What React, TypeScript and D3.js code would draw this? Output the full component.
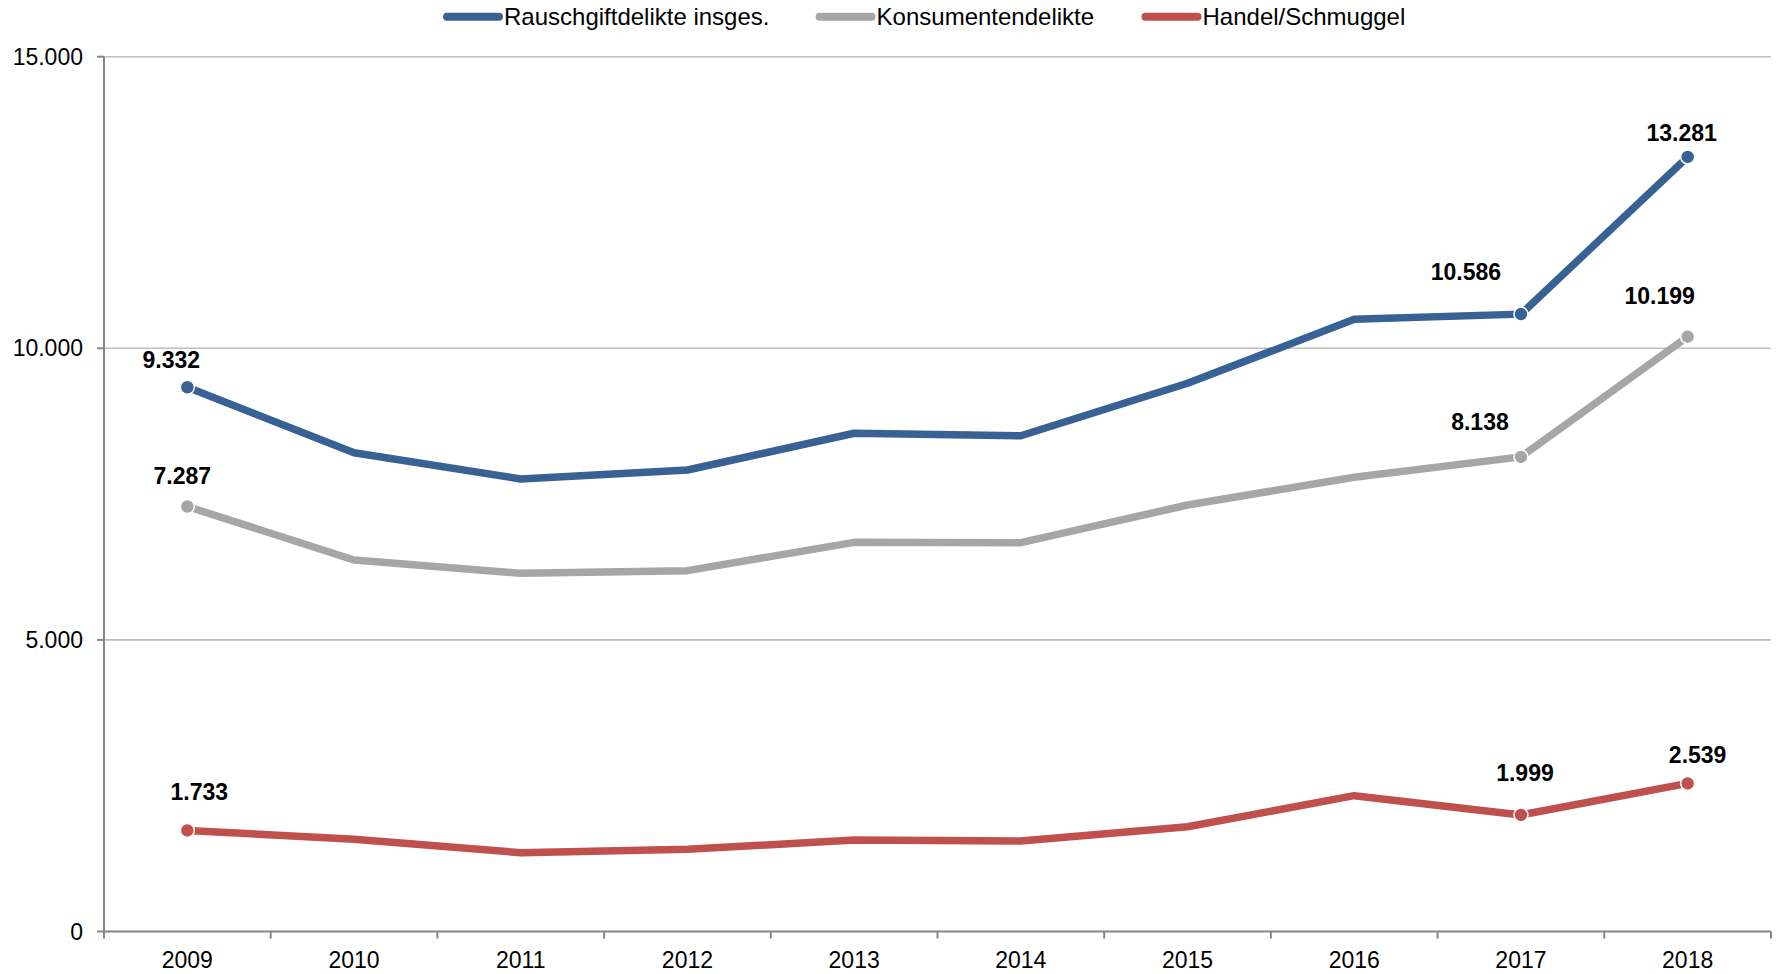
import React from "react";
import * as d3 from "d3";

const years = ["2009", "2010", "2011", "2012", "2013", "2014", "2015", "2016", "2017", "2018"];
const rauschgift = [9332, 8210, 7759, 7913, 8543, 8501, 9400, 10497, 10586, 13281];
const konsumenten = [7287, 6370, 6142, 6187, 6673, 6667, 7313, 7790, 8138, 10199];
const handel = [1733, 1581, 1351, 1409, 1569, 1552, 1797, 2329, 1999, 2539];
const yTicks = [0, 5000, 10000, 15000];
const seriesNames = ["Rauschgiftdelikte insges.", "Konsumentendelikte", "Handel/Schmuggel"];
const markedIdx = [0, 8, 9];

// layout / style (not data)
const W = 1781;
const H = 974;
const M = { left: 104, right: 1771, top: 56.7, bottom: 931.5 };
const colors = ["#386293", "#A6A6A6", "#C0504D"];
const legendX = [443, 815.6, 1141.5];
// label offsets relative to point [dx, dy] for indices 0, 8, 9
const labelOffsets: number[][][] = [
  [[-16, -19], [-55, -34], [-6, -16]],
  [[-5, -23], [-41, -27], [-28, -33]],
  [[12, -30], [4, -34], [10, -20]],
];

const fmt = (v: number) => d3.format(",")(v).replace(/,/g, ".");

export default function App() {
  const x = d3.scaleBand<string>().domain(years).range([M.left, M.right]);
  const y = d3.scaleLinear().domain([0, 15000]).range([M.bottom, M.top]);
  const cx = (i: number) => (x(years[i]) as number) + x.bandwidth() / 2;
  const line = d3
    .line<number>()
    .x((_, i) => cx(i))
    .y((d) => y(d));
  const allSeries = [rauschgift, konsumenten, handel];
  const font = "'Liberation Sans', Arial, Helvetica, sans-serif";
  const boundaries = d3.range(years.length + 1).map((i) => M.left + i * x.bandwidth());

  return (
    <svg
      width={W}
      height={H}
      style={{ position: "absolute", left: 0, top: 0, display: "block", background: "#fff" }}
      fontFamily={font}
    >
      {/* gridlines */}
      {yTicks.filter((t) => t > 0).map((t) => (
        <line key={"g" + t} x1={M.left} x2={M.right} y1={y(t)} y2={y(t)} stroke="#BEBEBE" strokeWidth={1.6} />
      ))}
      {/* y axis */}
      <line x1={M.left} x2={M.left} y1={M.top} y2={M.bottom} stroke="#868686" strokeWidth={2} />
      {yTicks.map((t) => (
        <g key={"yt" + t}>
          <line x1={M.left - 7} x2={M.left} y1={y(t)} y2={y(t)} stroke="#868686" strokeWidth={2} />
          <text x={83} y={y(t) + 8} textAnchor="end" fontSize={23} fill="#000">
            {fmt(t)}
          </text>
        </g>
      ))}
      {/* x axis */}
      <line x1={M.left} x2={M.right} y1={M.bottom} y2={M.bottom} stroke="#868686" strokeWidth={2} />
      {boundaries.map((bx, i) => (
        <line key={"xt" + i} x1={bx} x2={bx} y1={M.bottom} y2={M.bottom + 7} stroke="#868686" strokeWidth={2} />
      ))}
      {years.map((yr, i) => (
        <text key={yr} x={cx(i)} y={968} textAnchor="middle" fontSize={23} fill="#000">
          {yr}
        </text>
      ))}
      {/* lines */}
      {allSeries.map((s, si) => (
        <path
          key={"l" + si}
          d={line(s) as string}
          fill="none"
          stroke={colors[si]}
          strokeWidth={7.5}
          strokeLinejoin="round"
        />
      ))}
      {/* markers */}
      {allSeries.map((s, si) =>
        markedIdx.map((i) => (
          <circle key={"m" + si + "-" + i} cx={cx(i)} cy={y(s[i])} r={7} fill={colors[si]} stroke="#fff" strokeWidth={1.5} />
        ))
      )}
      {/* labels */}
      {allSeries.map((s, si) =>
        markedIdx.map((i, k) => (
          <text
            key={"t" + si + "-" + i}
            x={cx(i) + labelOffsets[si][k][0]}
            y={y(s[i]) + labelOffsets[si][k][1]}
            textAnchor="middle"
            fontSize={23}
            fontWeight="bold"
            fill="#000"
          >
            {fmt(s[i])}
          </text>
        ))
      )}
      {/* legend */}
      {seriesNames.map((n, i) => (
        <g key={"lg" + i}>
          <line
            x1={legendX[i] + 4}
            x2={legendX[i] + 56}
            y1={16.7}
            y2={16.7}
            stroke={colors[i]}
            strokeWidth={8}
            strokeLinecap="round"
          />
          <text x={legendX[i] + 61} y={25} fontSize={24} fill="#000">
            {n}
          </text>
        </g>
      ))}
    </svg>
  );
}
